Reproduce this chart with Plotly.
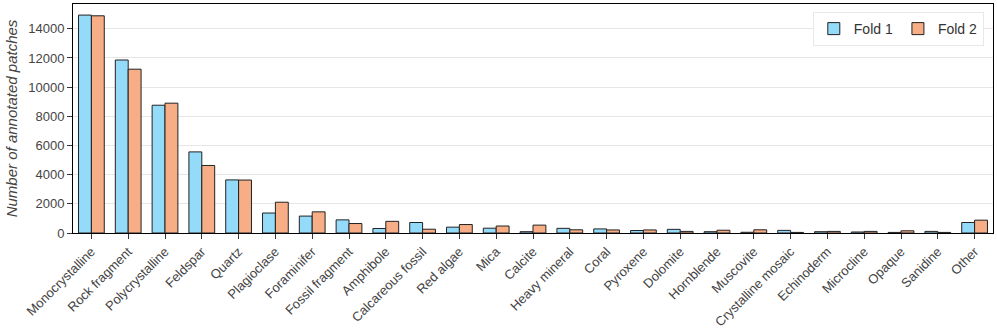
import plotly.graph_objects as go

categories = ["Monocrystalline", "Rock fragment", "Polycrystalline", "Feldspar", "Quartz",
              "Plagioclase", "Foraminifer", "Fossil fragment", "Amphibole", "Calcareous fossil",
              "Red algae", "Mica", "Calcite", "Heavy mineral", "Coral", "Pyroxene", "Dolomite",
              "Hornblende", "Muscovite", "Crystalline mosaic", "Echinoderm", "Microcline",
              "Opaque", "Sanidine", "Other"]
fold1 = [14940, 11860, 8760, 5560, 3640, 1370, 1160, 900, 310, 720,
         400, 330, 90, 320, 280, 170, 250, 90, 50, 180, 90, 70, 40, 110, 720]
fold2 = [14890, 11230, 8900, 4630, 3630, 2110, 1450, 650, 800, 260,
         580, 480, 540, 220, 210, 210, 110, 190, 220, 40, 110, 110, 150, 40, 880]

fig = go.Figure()
fig.add_trace(go.Bar(x=categories, y=fold1, name="Fold 1",
                     marker=dict(color="#94dbfa", line=dict(color="#222", width=1))))
fig.add_trace(go.Bar(x=categories, y=fold2, name="Fold 2",
                     marker=dict(color="#f7ad85", line=dict(color="#222", width=1))))

fig.update_layout(
    width=997, height=332,
    margin=dict(l=73, r=4, t=4, b=99),
    paper_bgcolor="white", plot_bgcolor="white",
    font=dict(family="Liberation Sans, Arial, sans-serif", size=12, color="#444"),
    barmode="group", bargap=0.3, bargroupgap=0,
    legend=dict(orientation="h", x=0.99, y=0.965, xanchor="right", yanchor="top",
                bordercolor="#e8e8e8", borderwidth=1, bgcolor="white",
                font=dict(size=14, color="#333"), itemwidth=30),
)
fig.update_xaxes(range=[-0.5, 24.5], tickangle=-45, ticks="outside", ticklen=5,
                 tickcolor="#333", showline=True, linecolor="black", linewidth=1,
                 mirror=True, showgrid=False, tickfont=dict(size=13), automargin=False)
fig.update_yaxes(range=[0, 15700], dtick=2000, tickformat="d", ticks="outside", ticklen=5,
                 tickcolor="#333", showline=True, linecolor="black", linewidth=1,
                 mirror=True, showgrid=True, gridcolor="#e6e6e6", zeroline=False,
                 tickfont=dict(size=13), automargin=False,
                 title=dict(text="<i>Number of annotated patches</i>", font=dict(size=15, color="#444"),
                            standoff=6))

# drop the default page margin so the figure sits at the window's top-left corner
fig.write_html("out.html", config={"displayModeBar": False},
               post_script="document.body.style.margin='0';document.body.style.overflow='hidden';")
